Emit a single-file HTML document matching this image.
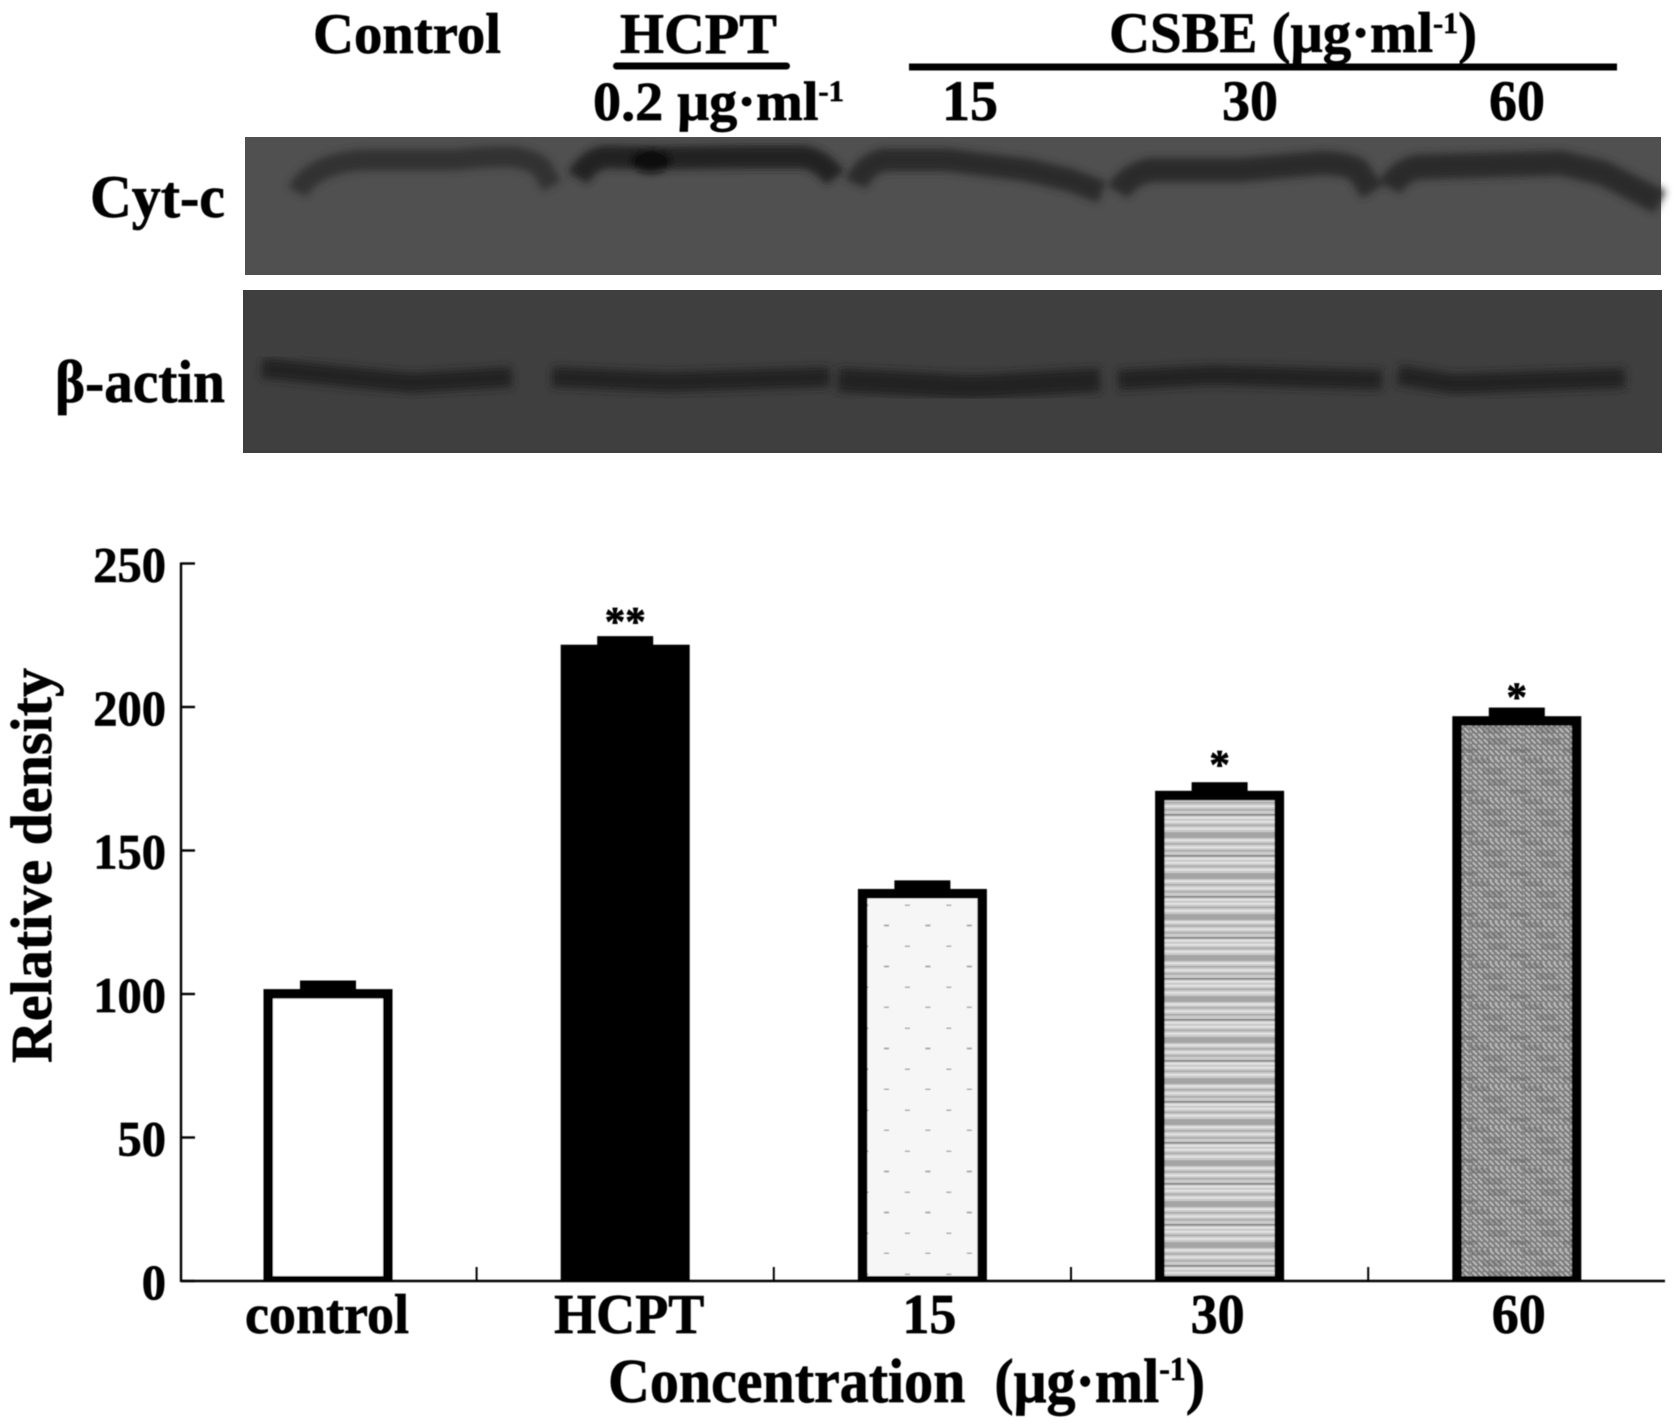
<!DOCTYPE html>
<html lang="en">
<head>
<meta charset="utf-8">
<title>Cyt-c western blot and relative density chart</title>
<style>
html,body{margin:0;padding:0;background:#fff;width:1677px;height:1426px;overflow:hidden}
svg{display:block}
text{font-family:"Liberation Serif","DejaVu Serif",serif;font-weight:bold;fill:#000;stroke:#000;stroke-width:.7px}
</style>
</head>
<body>
<svg id="figure" xmlns="http://www.w3.org/2000/svg" width="1677" height="1426" viewBox="0 0 1677 1426">
<defs>
  <filter id="soft" x="-2%" y="-2%" width="104%" height="104%"><feGaussianBlur stdDeviation="0.55"/></filter>
  <filter id="bandBlur" x="-10%" y="-60%" width="120%" height="220%"><feGaussianBlur stdDeviation="4"/></filter>
  <filter id="bandBlur2" x="-10%" y="-60%" width="120%" height="220%"><feGaussianBlur stdDeviation="4.2"/></filter>
  <pattern id="fill-dots" patternUnits="userSpaceOnUse" x="866" y="885" width="41.4" height="41">
    <rect width="41.4" height="41" fill="#f6f6f6"/>
    <rect x="18" y="39.5" width="5" height="1.5" fill="#a8a8a8"/>
    <rect x="0" y="19.5" width="2.5" height="1.5" fill="#a8a8a8"/>
    <rect x="38.9" y="19.5" width="2.5" height="1.5" fill="#a8a8a8"/>
  </pattern>
  <pattern id="fill-lines" patternUnits="userSpaceOnUse" x="1165" y="1025" width="10" height="41">
    <rect width="10" height="41" fill="#cbcbcb"/>
    <rect y="1" width="10" height="1.6" fill="#e6e6e6"/><rect y="4.5" width="10" height="1.6" fill="#a8a8a8"/>
    <rect y="8" width="10" height="1.6" fill="#e6e6e6"/>
    <rect y="12" width="10" height="6" fill="#a4a4a4"/>
    <rect y="19.5" width="10" height="1.6" fill="#e6e6e6"/><rect y="23" width="10" height="1.6" fill="#a8a8a8"/>
    <rect y="26.5" width="10" height="1.6" fill="#e6e6e6"/><rect y="30" width="10" height="1.6" fill="#a8a8a8"/>
    <rect y="35" width="10" height="1.6" fill="#7e7e7e"/><rect y="38" width="10" height="1.6" fill="#e6e6e6"/>
  </pattern>
  <pattern id="hatch-base" patternUnits="userSpaceOnUse" x="0" y="0" width="5.6" height="5.6">
    <rect width="5.6" height="5.6" fill="#7d7d7d"/>
    <path d="M-1.4 1.4L1.4 4.2M1.4 -1.4L7 4.2M2.8 5.6L4.2 7" stroke="#c6c6c6" stroke-width="1.5" fill="none"/>
  </pattern>
  <pattern id="fill-hatch" patternUnits="userSpaceOnUse" x="1470" y="1045" width="53" height="41">
    <rect width="53" height="41" fill="url(#hatch-base)"/>
    <g fill="#585858" fill-opacity=".28">
      <rect x="0" y="0" width="20" height="5"/>
      <rect x="13" y="11" width="20" height="5"/>
      <rect x="18" y="22" width="20" height="5"/>
      <rect x="40" y="31" width="13" height="5"/>
      <rect x="0" y="31" width="7" height="5"/>
    </g>
  </pattern>
</defs>

<g id="blots">
  <g>
    <rect x="245" y="137" width="1416" height="138" fill="#505050"/>
    <g filter="url(#bandBlur)" fill="none" stroke="#2b2b2b" stroke-linecap="butt" stroke-linejoin="round">
      <path d="M297 192Q305 178 321 170Q340 161 364 160L455 160Q490 156 514 157Q532 160 541 167L552 186" stroke="#303030" stroke-width="21"/>
      <path d="M578 178Q588 160 605 157L653 158L750 157L803 157Q822 160 835 178" stroke="#242424" stroke-width="23"/>
      <path d="M856 184Q864 165 883 160L947 160L1027 170L1070 180L1102 192" stroke-width="23"/>
      <path d="M1118 192Q1128 175 1150 170L1240 170L1320 163Q1345 163 1358 170L1372 192" stroke-width="24"/>
      <path d="M1390 188Q1398 172 1417 167L1561 163L1603 173L1660 202" stroke-width="25"/>
      <ellipse cx="651" cy="161" rx="20" ry="12" fill="#080808" stroke="none"/>
    </g>
  </g>
  <g>
    <rect x="243" y="290" width="1419" height="163" fill="#3f3f3f"/>
    <g filter="url(#bandBlur2)" fill="none" stroke="#232323" stroke-linecap="butt" stroke-linejoin="round" stroke-width="20">
      <path d="M262 368L348 377L412 383L512 377"/>
      <path d="M552 377L669 382L830 377"/>
      <path d="M838 380L973 387L1100 380" stroke-width="24"/>
      <path d="M1118 380L1214 375L1382 380"/>
      <path d="M1398 375L1454 384L1625 378"/>
    </g>
  </g>
</g>

<g id="chart" filter="url(#soft)"></g>

<g id="labels" filter="url(#soft)">
  <text x="313" y="53" font-size="57" textLength="188" lengthAdjust="spacingAndGlyphs">Control</text>
  <text x="620" y="53" font-size="57" textLength="157" lengthAdjust="spacingAndGlyphs">HCPT</text>
  <rect x="613" y="62.5" width="177" height="7" rx="3.5" fill="#000"/>
  <text x="593" y="120" font-size="55" textLength="251" lengthAdjust="spacingAndGlyphs">0.2 μg·ml<tspan font-size="30" dy="-19">-1</tspan></text>
  <text x="1109" y="52" font-size="57" textLength="368" lengthAdjust="spacingAndGlyphs">CSBE (μg·ml<tspan font-size="30" dy="-19">-1</tspan><tspan dy="19">)</tspan></text>
  <rect x="909" y="63.5" width="708" height="7" fill="#000"/>
  <text x="942" y="120" font-size="57" textLength="56" lengthAdjust="spacingAndGlyphs">15</text>
  <text x="1222" y="120" font-size="57" textLength="56" lengthAdjust="spacingAndGlyphs">30</text>
  <text x="1489" y="120" font-size="57" textLength="56" lengthAdjust="spacingAndGlyphs">60</text>
  <text x="90" y="217" font-size="60" textLength="135" lengthAdjust="spacingAndGlyphs">Cyt-c</text>
  <text x="55" y="402" font-size="60" textLength="170" lengthAdjust="spacingAndGlyphs">β-actin</text>
</g>
</svg>

<script>
const categories = ['control', 'HCPT', '15', '30', '60'];
const densityValues = [101.7, 221.7, 136.6, 170.8, 196.8];
const errorValues = [3, 3, 3, 3, 3];
const significance = ['', '**', '', '*', '*'];
const yTickValues = [0, 50, 100, 150, 200, 250];
const barFillIds = ['#ffffff', '#000000', 'url(#fill-dots)', 'url(#fill-lines)', 'url(#fill-hatch)'];
const xLabelNudge = [-1, 4, 7, -2, 2];
const starNudge = [0, -1, 0, -4, 3];

const SVGNS = 'http://www.w3.org/2000/svg';
const chart = document.getElementById('chart');
const AXIS_X = 181, AXIS_Y = 1281, AXIS_END = 1665;
const PX_PER_UNIT = 2.87, BAR_STEP = 297.2, FIRST_BAR = 328, BAR_W = 129, BORDER = 9.5, CAP_W = 56;

function yScale(v) { return AXIS_Y - v * PX_PER_UNIT; }
function xScale(i) { return FIRST_BAR + i * BAR_STEP; }
function make(tag, attrs, text) {
  const el = document.createElementNS(SVGNS, tag);
  for (const k in attrs) el.setAttribute(k, attrs[k]);
  if (text !== undefined) el.textContent = text;
  chart.appendChild(el);
  return el;
}
function condense(el, ratio) {
  el.setAttribute('textLength', el.getComputedTextLength() * ratio);
  el.setAttribute('lengthAdjust', 'spacingAndGlyphs');
}

categories.forEach(function (cat, i) {
  const top = yScale(densityValues[i]);
  const capTop = yScale(densityValues[i] + errorValues[i]);
  const left = xScale(i) - BAR_W / 2;
  const outer = make('rect', { x: left, y: top, width: BAR_W, height: AXIS_Y - top, fill: '#000' });
  
  
  const inner = make('rect', { x: left + BORDER, y: top + BORDER, width: BAR_W - 2 * BORDER, height: AXIS_Y - top - BORDER - 5, fill: barFillIds[i] });
  
  
  const cap = make('rect', { x: xScale(i) - CAP_W / 2, y: capTop, width: CAP_W, height: top - capTop + 1, fill: '#000' });
  
  
  if (significance[i]) {
    const star = make('text', { x: xScale(i), y: capTop + starNudge[i], 'font-size': 41, 'text-anchor': 'middle' }, significance[i]);
    
    
  }
  const label = make('text', { x: xScale(i) + xLabelNudge[i], y: AXIS_Y + 52, 'font-size': 56, 'text-anchor': 'middle' }, cat);
  
  
  condense(label, 0.965);
  if (i < categories.length - 1) {
    const mx = xScale(i) + BAR_STEP / 2;
    const xTick = make('line', { x1: mx, x2: mx, y1: AXIS_Y, y2: AXIS_Y - 14, stroke: '#000', 'stroke-width': 2 });
    
    
  }
});

yTickValues.forEach(function (v) {
  const tick = make('line', { x1: AXIS_X, x2: AXIS_X + 14, y1: yScale(v), y2: yScale(v), stroke: '#000', 'stroke-width': 2.4 });
  
  
  const label = make('text', { x: 166, y: yScale(v) + 18, 'font-size': 50, 'text-anchor': 'end' }, String(v));
  
  
  condense(label, 0.97);
});

const yAxis = make('line', { x1: AXIS_X, x2: AXIS_X, y1: yScale(250) - 1, y2: AXIS_Y + 1, stroke: '#000', 'stroke-width': 2.4 });


const xAxis = make('line', { x1: AXIS_X, x2: AXIS_END, y1: AXIS_Y, y2: AXIS_Y, stroke: '#000', 'stroke-width': 2.4 });



const yTitle = make('text', { transform: 'translate(51 1063) rotate(-90)', 'font-size': 58, textLength: 395, lengthAdjust: 'spacingAndGlyphs' }, 'Relative density');



const xTitle = make('text', { x: 608, y: 1402, 'font-size': 62, textLength: 597, lengthAdjust: 'spacingAndGlyphs' });


xTitle.innerHTML = 'Concentration\u00A0\u00A0(μg·ml<tspan font-size="34" dy="-22">-1</tspan><tspan dy="22">)</tspan>';
</script>
</body>
</html>
